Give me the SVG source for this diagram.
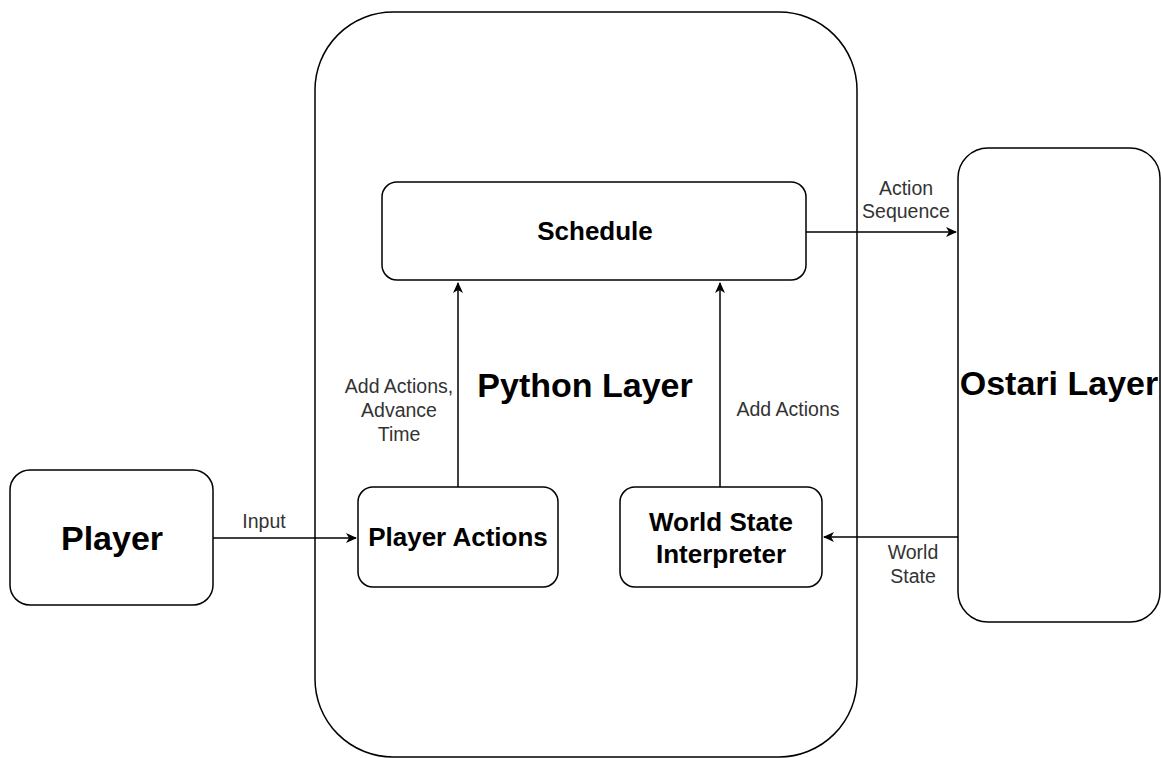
<svg xmlns="http://www.w3.org/2000/svg" width="1161" height="758" viewBox="0 0 1161 758">
<style>
.box{fill:#fff;stroke:#000;stroke-width:1.5}
.t{font-family:"Liberation Sans",Arial,sans-serif;font-weight:bold;fill:#000;text-anchor:middle}
.big{font-size:34px}
.mid{font-size:26px}
.l{font-family:"Liberation Sans",Arial,sans-serif;font-size:19.5px;fill:#333;text-anchor:middle}
.c{fill:none;stroke:#000;stroke-width:1.5}
</style>
<defs>
<marker id="ah" markerWidth="12" markerHeight="10" refX="10" refY="5" orient="auto" markerUnits="userSpaceOnUse">
<path d="M0,0 L11,5 L0,10 L3,5 Z" fill="#000"/>
</marker>
</defs>
<rect width="1161" height="758" fill="#fff"/>
<g id="python-layer">
<rect class="box" x="315" y="12" width="542" height="745" rx="78" ry="78"/>
<text class="t big" x="585" y="397">Python Layer</text>
</g>
<g id="ostari-layer">
<rect class="box" x="958" y="148" width="202" height="474" rx="30" ry="30"/>
<text class="t big" x="1059" y="395">Ostari Layer</text>
</g>
<g id="schedule">
<rect class="box" x="382" y="182" width="424" height="98" rx="15" ry="15"/>
<text class="t mid" x="595" y="240">Schedule</text>
</g>
<g id="player">
<rect class="box" x="10" y="470" width="203" height="135" rx="20" ry="20"/>
<text class="t big" x="112" y="550">Player</text>
</g>
<g id="player-actions">
<rect class="box" x="358" y="487" width="200" height="100" rx="15" ry="15"/>
<text class="t mid" x="458" y="546">Player Actions</text>
</g>
<g id="world-state-interpreter">
<rect class="box" x="620" y="487" width="202" height="100" rx="15" ry="15"/>
<text class="t mid" x="721" y="531">World State</text>
<text class="t mid" x="721" y="563">Interpreter</text>
</g>
<g id="connectors">
<line class="c" x1="806" y1="232" x2="956" y2="232" marker-end="url(#ah)"/>
<line class="c" x1="213" y1="538" x2="356" y2="538" marker-end="url(#ah)"/>
<line class="c" x1="458" y1="487" x2="458" y2="283" marker-end="url(#ah)"/>
<line class="c" x1="720" y1="487" x2="720" y2="283" marker-end="url(#ah)"/>
<line class="c" x1="958" y1="537" x2="824" y2="537" marker-end="url(#ah)"/>
<text class="l" x="906" y="195">Action</text>
<text class="l" x="906" y="218">Sequence</text>
<text class="l" x="264" y="528">Input</text>
<text class="l" x="399" y="393">Add Actions,</text>
<text class="l" x="399" y="417">Advance</text>
<text class="l" x="399" y="441">Time</text>
<text class="l" x="788" y="416">Add Actions</text>
<text class="l" x="913" y="559">World</text>
<text class="l" x="913" y="583">State</text>
</g>
</svg>
